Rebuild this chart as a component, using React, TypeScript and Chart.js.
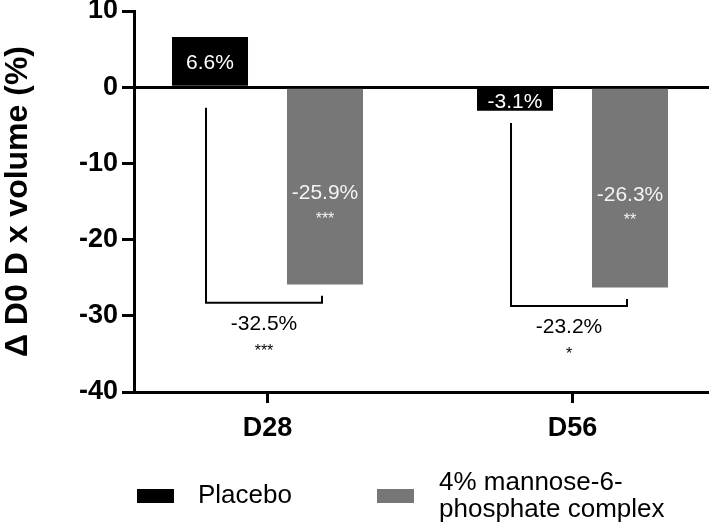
import React, { useEffect, useRef } from "react";
import { Chart, registerables } from "chart.js";

Chart.register(...registerables);

const FONT = "'Liberation Sans', Arial, Helvetica, sans-serif";

// ---- data ----
const categories = ["D28", "D56"];
const seriesNames = ["Placebo", "4% mannose-6-phosphate complex"];
const legendLines = [["Placebo"], ["4% mannose-6-", "phosphate complex"]];
const placebo = [6.6, -3.1];
const mannose = [-25.9, -26.3];
const mannoseStars = ["***", "**"];
const diffLabels = ["-32.5%", "-23.2%"];
const diffStars = ["***", "*"];
const bracketTop = [-2.7, -4.7];
const bracketBottom = [-28.3, -28.7];
const yTicks = [10, 0, -10, -20, -30, -40];
const seriesColors = ["#000000", "#777777"];

const pct = (v: number) => `${v.toFixed(1)}%`;

const annotations = {
  id: "annotations",
  afterDatasetsDraw(chart: any) {
    const ctx = chart.ctx;
    const yScale = chart.scales.y;
    const m0 = chart.getDatasetMeta(0);
    const m1 = chart.getDatasetMeta(1);
    ctx.save();
    ctx.textAlign = "center";
    for (let i = 0; i < categories.length; i++) {
      const b0: any = m0.data[i];
      const b1: any = m1.data[i];
      // placebo label inside bar
      ctx.font = `21px ${FONT}`;
      ctx.fillStyle = "#ffffff";
      ctx.textBaseline = "middle";
      ctx.fillText(pct(placebo[i]), b0.x, (b0.y + b0.base) / 2 + 2);
      // mannose label inside bar
      const mid = (b1.y + b1.base) / 2;
      ctx.fillStyle = "#f4f4f4";
      ctx.fillText(pct(mannose[i]), b1.x, mid + 7);
      ctx.font = `16px ${FONT}`;
      ctx.textBaseline = "alphabetic";
      ctx.fillText(mannoseStars[i], b1.x, mid + 37);

      // bracket
      const left = b0.x - 4;
      const right = b1.x - 3;
      const top = yScale.getPixelForValue(bracketTop[i]);
      const bottom = yScale.getPixelForValue(bracketBottom[i]);
      ctx.strokeStyle = "#000";
      ctx.lineWidth = 2;
      ctx.beginPath();
      ctx.moveTo(left, top);
      ctx.lineTo(left, bottom);
      ctx.lineTo(right, bottom);
      ctx.lineTo(right, bottom - 7);
      ctx.stroke();

      const cx = (left + right) / 2;
      ctx.fillStyle = "#000";
      ctx.font = `21px ${FONT}`;
      ctx.textBaseline = "middle";
      ctx.fillText(diffLabels[i], cx, bottom + 21);
      ctx.font = `16px ${FONT}`;
      ctx.textBaseline = "alphabetic";
      ctx.fillText(diffStars[i], cx, bottom + 53);
    }
    ctx.restore();
  },
  afterDraw(chart: any) {
    const ctx = chart.ctx;
    ctx.save();
    const boxes = [
      { x: 137, tx: 198 },
      { x: 377, tx: 439 },
    ];
    ctx.font = `26px ${FONT}`;
    ctx.textAlign = "left";
    ctx.textBaseline = "middle";
    legendLines.forEach((lines, i) => {
      ctx.fillStyle = seriesColors[i];
      ctx.fillRect(boxes[i].x, 489, 37, 14);
      ctx.fillStyle = "#000";
      const lh = 27;
      const startY = 496 - ((lines.length - 1) * lh) / 2;
      lines.forEach((t, j) => ctx.fillText(t, boxes[i].tx, startY + j * lh));
    });
    ctx.restore();
  },
};

export default function App() {
  const ref = useRef<HTMLCanvasElement | null>(null);
  useEffect(() => {
    if (!ref.current) return;
    Chart.defaults.font.family = FONT;
    const chart = new Chart(ref.current, {
      type: "bar",
      data: {
        datasets: [
          {
            label: seriesNames[0],
            data: placebo.map((v, i) => ({ x: i, y: v })),
            backgroundColor: seriesColors[0],
            categoryPercentage: 0.754,
            barPercentage: 0.661,
          },
          {
            label: seriesNames[1],
            data: mannose.map((v, i) => ({ x: i, y: v })),
            backgroundColor: seriesColors[1],
            categoryPercentage: 0.754,
            barPercentage: 0.661,
          },
        ],
      } as any,
      options: {
        animation: false,
        responsive: false,
        maintainAspectRatio: false,
        layout: { padding: { top: 11, right: 0, left: 0, bottom: 0 } },
        plugins: { legend: { display: false }, tooltip: { enabled: false } },
        scales: {
          x: {
            type: "linear",
            offset: false,
            bounds: "data",
            min: -0.4377,
            max: 1.4475,
            afterBuildTicks: (s: any) => {
              s.ticks = categories.map((_, i) => ({ value: i }));
            },
            ticks: {
              callback: (v: any) => categories[v as number] ?? "",
              font: { family: FONT, size: 27, weight: "bold" },
              color: "#000",
              padding: 9,
              autoSkip: false,
              maxRotation: 0,
            },
            grid: {
              offset: false,
              drawOnChartArea: false,
              drawTicks: true,
              tickLength: 11,
              tickColor: "#000",
              tickWidth: 3,
            },
            border: { color: "#000", width: 3 },
            afterFit: (s: any) => {
              s.height = 135;
              s.paddingLeft = 0;
              s.paddingRight = 0;
            },
          },
          y: {
            min: -40,
            max: 10,
            afterBuildTicks: (s: any) => {
              s.ticks = yTicks.map((v) => ({ value: v }));
            },
            ticks: {
              font: { family: FONT, size: 27, weight: "bold" },
              color: "#000",
              padding: 4,
            },
            grid: {
              drawOnChartArea: true,
              color: (c: any) => (c.tick && c.tick.value === 0 ? "#000" : "rgba(0,0,0,0)"),
              lineWidth: 3,
              tickColor: "#000",
              tickLength: 12,
              tickWidth: 3,
            },
            border: { color: "#000", width: 3 },
            title: {
              display: true,
              text: "Δ D0 D x volume (%)",
              font: { family: FONT, size: 32, weight: "bold" },
              color: "#000",
              padding: { top: -1, bottom: 0 },
            },
            afterFit: (s: any) => {
              s.width = 134;
              s.paddingTop = 0;
              s.paddingBottom = 0;
            },
          },
        },
      } as any,
      plugins: [annotations],
    });
    return () => chart.destroy();
  }, []);

  return (
    <div style={{ position: "absolute", left: 0, top: 0, width: 709, height: 527, background: "#fff" }}>
      <canvas ref={ref} width={709} height={527} style={{ display: "block" }} />
    </div>
  );
}
